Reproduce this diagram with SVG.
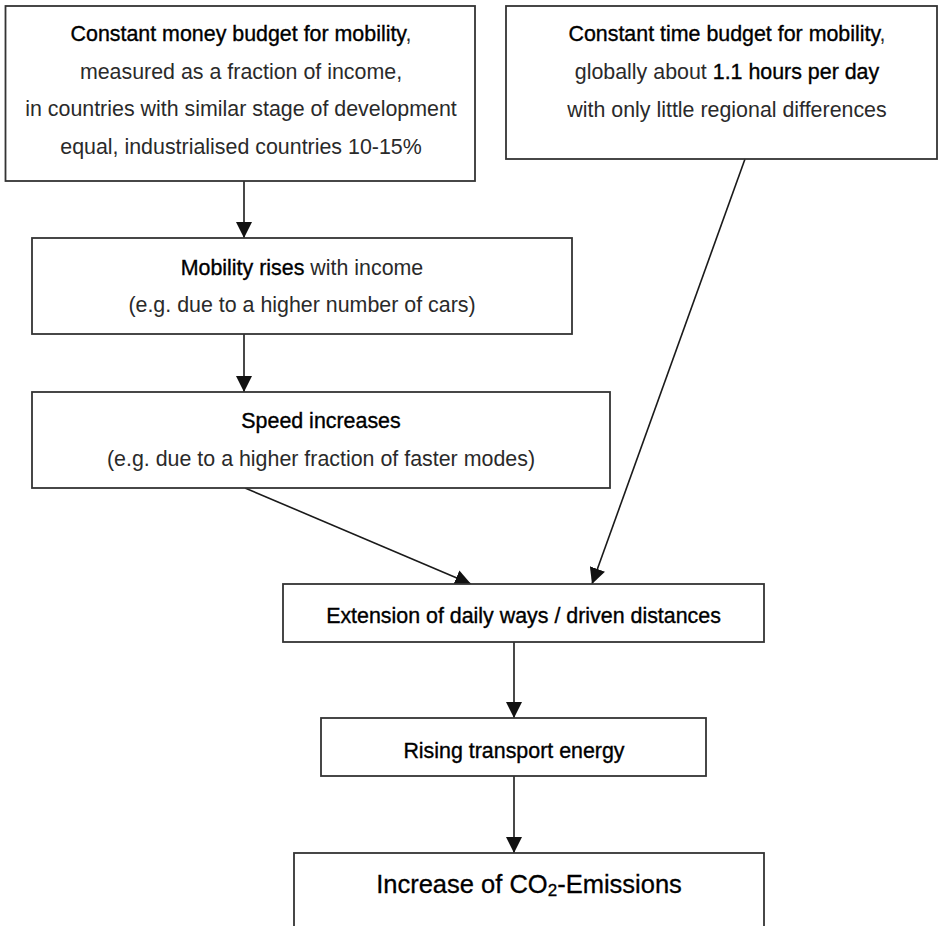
<svg xmlns="http://www.w3.org/2000/svg" width="938" height="926" viewBox="0 0 938 926">
<defs>
<style>
.box{fill:#fff;stroke:#333;stroke-width:1.8}
.t{font-family:"Liberation Sans",Arial,sans-serif;font-size:21.4px;text-anchor:middle;fill:#2a2a2a}
.e{fill:#000;stroke:#000;stroke-width:0.35}
.big{font-size:25.5px;fill:#000;stroke:#000;stroke-width:0.3}
.c{stroke:#1a1a1a;stroke-width:1.6;fill:none;marker-end:url(#ah)}
</style>
<marker id="ah" markerUnits="userSpaceOnUse" markerWidth="16" markerHeight="16" viewBox="0 0 14 14" refX="14" refY="7" orient="auto">
<path d="M0,0 L14,7 L0,14 Z" fill="#111"/>
</marker>
</defs>
<rect width="938" height="926" fill="#fff"/>
<g id="connectors">
<line class="c" x1="244" y1="181" x2="244" y2="238"/>
<line class="c" x1="244" y1="334" x2="244" y2="392"/>
<line class="c" x1="245" y1="488" x2="471" y2="584"/>
<line class="c" x1="745" y1="159" x2="592" y2="584"/>
<line class="c" x1="514" y1="642" x2="514" y2="718"/>
<line class="c" x1="514" y1="776" x2="514" y2="853"/>
</g>
<g id="money">
<rect class="box" x="5.5" y="6" width="469.5" height="175"/>
<text class="t" x="241" y="41"><tspan class="e">Constant money budget for mobility</tspan>,</text>
<text class="t" x="241" y="78.5">measured as a fraction of income,</text>
<text class="t" x="241" y="116">in countries with similar stage of development</text>
<text class="t" x="241" y="153.5">equal, industrialised countries 10-15%</text>
</g>
<g id="time">
<rect class="box" x="506" y="6" width="431" height="153"/>
<text class="t" x="727" y="41"><tspan class="e">Constant time budget for mobility</tspan>,</text>
<text class="t" x="727" y="79">globally about <tspan class="e">1.1 hours per day</tspan></text>
<text class="t" x="727" y="117">with only little regional differences</text>
</g>
<g id="mobility">
<rect class="box" x="32" y="238" width="540" height="96"/>
<text class="t" x="302" y="275"><tspan class="e">Mobility rises</tspan> with income</text>
<text class="t" x="302" y="312">(e.g. due to a higher number of cars)</text>
</g>
<g id="speed">
<rect class="box" x="32" y="392" width="578" height="96"/>
<text class="t e" x="321" y="428">Speed increases</text>
<text class="t" x="321" y="466">(e.g. due to a higher fraction of faster modes)</text>
</g>
<g id="extension">
<rect class="box" x="283" y="584" width="481" height="58"/>
<text class="t e" x="523.5" y="623">Extension of daily ways / driven distances</text>
</g>
<g id="energy">
<rect class="box" x="321" y="718" width="385" height="58"/>
<text class="t e" x="514" y="758">Rising transport energy</text>
</g>
<g id="co2">
<rect class="box" x="294" y="853" width="470" height="100"/>
<text class="t big" x="529" y="893">Increase of CO<tspan font-size="17" dy="3">2</tspan><tspan dy="-3">-Emissions</tspan></text>
</g>
</svg>
